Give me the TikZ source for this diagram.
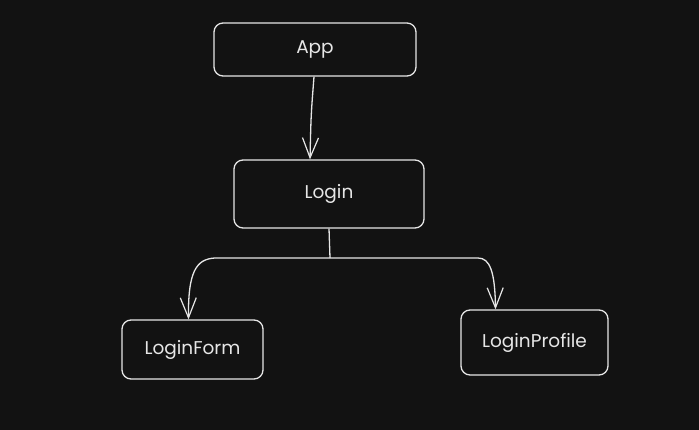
\documentclass[tikz,border=0pt]{standalone}
\usepackage{fontspec}
\setmainfont{Poppins}
\usetikzlibrary{arrows.meta, positioning, calc}
\definecolor{bgdark}{HTML}{121212}
\definecolor{inkwhite}{HTML}{E6E6E6}

\begin{document}
\begin{tikzpicture}[
  x=1pt, y=-1pt,
  >={Straight Barb[length=20pt, width=16pt, line width=1.2pt]},
  compbox/.style 2 args={
    draw=inkwhite, line width=1.3pt, rounded corners=9pt,
    minimum width=#1, minimum height=#2, font=\fontsize{18.5}{22}\selectfont,
    text=inkwhite, align=center, inner sep=3pt
  },
  arr/.style={->, line width=1.3pt, inkwhite},
  link/.style={line width=1.3pt, inkwhite},
]

% Background
\fill[bgdark] (0,0) rectangle (699,430);

% Components
\node[compbox={202pt}{53pt}] (app) at (315,49.5) {App};
\node[compbox={190pt}{68pt}] (login) at (329,194) {Login};
\node[compbox={141pt}{59pt}] (lf) at (192.5,349.5) {LoginForm};
\node[compbox={147pt}{65pt}] (lp) at (534.5,342.5) {LoginProfile};

% App to Login
\draw[arr] ([xshift=-1pt]app.south) .. controls (311,115) .. ([xshift=-19pt]login.north);

% Login to children
\coordinate (jn) at (330,258);
\draw[link] (login.south) -- (jn);
\draw[arr] (jn) -- (215,258) .. controls (196,259) and (188,272) .. ([xshift=-4pt]lf.north);
\draw[arr] (jn) -- (478,258) .. controls (490,258) and (495,272) .. ([xshift=-39pt]lp.north);

\end{tikzpicture}
\end{document}
